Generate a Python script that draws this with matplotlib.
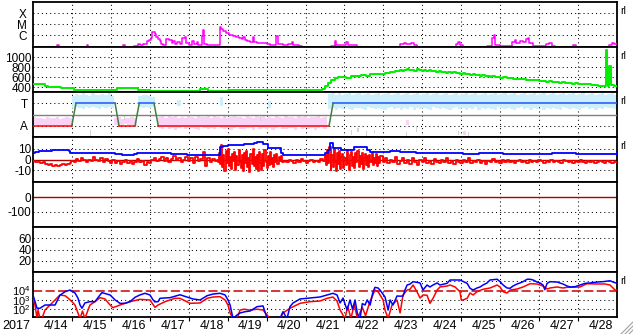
import numpy as np
import matplotlib
matplotlib.use('Agg')
import matplotlib.pyplot as plt
from matplotlib.transforms import blended_transform_factory
from matplotlib.ticker import NullLocator
from matplotlib.lines import Line2D

plt.rcParams['font.family'] = ['Liberation Sans', 'DejaVu Sans']
plt.rcParams['mathtext.fontset'] = 'custom'
plt.rcParams['mathtext.rm'] = 'Liberation Sans'
plt.rcParams['mathtext.it'] = 'Liberation Sans'

# ---------------- data (time in hours from start of axis) ----------------
year_label = '2017'
day_labels = ['4/14', '4/15', '4/16', '4/17', '4/18', '4/19', '4/20', '4/21',
              '4/22', '4/23', '4/24', '4/25', '4/26', '4/27', '4/28']
day_grid = [24, 48, 72, 96, 120, 144, 168, 192, 216, 240, 264, 288, 312, 336]

# GOES X-ray flux, log10(W/m2)
xray_pts = [(0, -7.3), (15, -6.95), (16, -7.3), (33, -6.95), (34, -7.3), (55.5, -6.95), (57, -7.1),
            (62, -7.0), (64.5, -6.85), (66, -6.9), (68, -6.8), (70, -6.5), (71.5, -6.45), (72.5, -6.3),
            (73.5, -5.75), (75, -5.95), (76, -6.15), (77, -6.35), (78, -6.5), (79, -6.8), (80, -6.95),
            (82, -6.4), (84, -6.45), (85.5, -6.75), (86.5, -6.55), (87.5, -6.8), (89, -6.6), (90.5, -6.85),
            (92, -6.3), (93.5, -6.2), (94.5, -6.75), (96, -6.9), (98, -6.55), (99, -6.85), (101, -6.6),
            (102, -6.9), (104, -6.1), (104.8, -5.55), (105.5, -6.85), (107, -6.95), (113, -6.9),
            (115, -5.3), (116, -5.45), (117, -5.65), (119, -5.85), (121, -6.0), (123, -6.1), (125, -6.2),
            (127, -6.3), (129, -6.35), (129.5, -6.15), (130.5, -6.45), (132, -6.5), (134, -6.6),
            (135.5, -6.15), (136.5, -6.65), (138, -6.7), (141, -6.75), (144, -6.8), (146, -6.9),
            (150, -6.1), (151, -6.85), (154, -6.95), (157, -6.8), (159.5, -6.6), (160.5, -6.9),
            (164, -7.0), (166, -7.3), (184, -7.0), (186, -6.5), (187, -6.9), (193, -6.6), (194, -6.95),
            (200, -7.3), (226, -6.8), (229, -6.7), (230, -6.85), (233, -6.7), (235, -6.95), (237, -7.3),
            (255, -7.3), (261, -6.8), (262, -6.6), (263, -6.9), (265, -7.3), (280, -7.0), (283, -6.3),
            (284, -6.0), (285, -6.9), (288, -7.0), (295, -6.6), (297, -6.45), (298, -6.7), (300, -6.5),
            (302, -6.6), (304, -6.35), (305, -6.3), (306, -6.7), (308, -7.0), (316, -6.8), (318, -6.75),
            (320, -7.0), (322, -7.3), (333, -6.9), (335, -7.3), (355, -6.9), (357, -6.75), (358, -6.85),
            (360, -6.8)]

# solar wind speed (km/s)
speed_pts = [(0, 455), (4, 450), (6, 452), (7.4, 415), (9, 405), (10.5, 392), (14, 390), (17, 388),
             (20, 380), (23, 383), (25, 346), (30, 348), (35, 344), (40, 340), (45, 338), (50.6, 342),
             (52, 376), (56, 374), (60, 376), (63, 372), (64.5, 336), (68, 333), (72, 326), (75, 320),
             (80, 320), (85, 322), (90, 318), (95, 320), (100, 324), (103, 354), (106, 350), (108, 322),
             (112, 320), (116, 322), (120, 330), (125, 335), (130, 338), (135, 340), (140, 342),
             (145, 338), (150, 335), (155, 340), (160, 345), (165, 340), (170, 336), (175, 345),
             (178, 360), (180, 420), (182, 480), (184, 540), (186, 570), (188, 590), (190, 600),
             (193, 585), (196, 610), (199, 625), (202, 640), (205, 630), (208, 655), (211, 660),
             (214, 670), (217, 690), (220, 700), (223, 720), (226, 745), (227.5, 725), (229, 740),
             (230.5, 755), (232, 735), (233.5, 750), (235, 730), (236.5, 752), (238, 738), (239.5, 722),
             (241, 745), (242.5, 728), (244, 740), (245.5, 712), (247, 725), (248.5, 705), (250, 722),
             (251.5, 698), (253, 710), (254.5, 690), (256, 705), (257.5, 684), (259, 695), (260.5, 672),
             (262, 686), (263.5, 664), (265, 676), (266.5, 655), (268, 666), (269.5, 648), (271, 656),
             (272.5, 636), (274, 648), (275.5, 628), (277, 638), (278.5, 620), (280, 630), (281.5, 608),
             (283, 618), (284.5, 596), (286, 600), (288, 582), (290, 590), (292, 572), (294, 578),
             (296, 560), (298, 566), (300, 552), (302, 558), (304, 540), (306, 546), (308, 532),
             (310, 536), (312, 520), (314, 524), (316, 506), (318, 512), (320, 498), (322, 502),
             (324, 486), (326, 490), (328, 476), (330, 480), (332, 466), (334, 470), (336, 458),
             (338, 462), (340, 452), (342, 456), (344, 446), (346, 440), (348, 426), (350, 420),
             (352, 412), (353, 1150), (354, 700), (354.5, 420), (355, 820), (356, 430), (358, 425),
             (360, 426)]

# IMF sector model; 90 = away, 270 = toward
sector_t = [0, 23.9, 26.5, 50.6, 53.0, 62.9, 65.5, 74.6, 77.2, 182.5, 185.0, 360]
sector_v = [90, 90, 270, 270, 90, 90, 270, 270, 90, 90, 270, 270]

# IMF angle clouds: bin start hour, low, high (deg)
toward_t = [24, 26, 28, 30, 32, 34, 36, 38, 40, 42, 44, 46, 48, 65, 67, 69, 71, 73, 89, 115, 145,
            182, 184, 186, 188, 190, 192, 194, 196, 198, 200, 202, 204, 206, 208, 210, 212, 214,
            216, 218, 220, 222, 224, 226, 228, 230, 232, 234, 236, 238, 240, 242, 244, 246, 248,
            250, 252, 254, 256, 258, 260, 262, 264, 266, 268, 270, 272, 274, 276, 278, 280, 282,
            284, 286, 288, 290, 292, 294, 296, 298, 300, 302, 304, 306, 308, 310, 312, 314, 316,
            318, 320, 322, 324, 326, 328, 330, 332, 334, 336, 338, 340, 342, 344, 346, 348, 350,
            352, 354, 356, 358]
toward_lo = [230, 240, 236, 228, 244, 232, 240, 236, 226, 240, 232, 244, 236, 240, 232, 244, 236, 240,
             250, 248, 230,
             224, 232, 220, 236, 228, 240, 224, 216, 232, 236, 228, 220, 240, 232, 224, 236, 228,
             216, 232, 240, 224, 236, 220, 232, 228, 240, 216, 232, 224, 236, 228, 220, 240, 232,
             224, 236, 228, 216, 232, 240, 224, 236, 220, 232, 228, 240, 216, 232, 224, 236, 228,
             220, 240, 232, 224, 236, 228, 216, 232, 240, 224, 236, 220, 232, 228, 240, 216, 232,
             224, 236, 228, 220, 240, 232, 224, 236, 228, 216, 232, 240, 224, 236, 220, 232, 228,
             240, 232, 236, 228]
toward_hi = [330, 345, 340, 350, 338, 330, 356, 340, 334, 346, 338, 352, 330, 330, 340, 336, 328, 322,
             300, 320, 290,
             344, 352, 340, 356, 336, 348, 360, 340, 344, 352, 336, 348, 356, 340, 344, 352, 336,
             348, 360, 340, 344, 352, 336, 348, 356, 340, 344, 352, 336, 348, 360, 340, 344, 352,
             336, 348, 356, 340, 344, 352, 336, 348, 360, 340, 344, 352, 336, 348, 356, 340, 344,
             352, 336, 348, 360, 340, 344, 352, 336, 348, 356, 340, 344, 352, 336, 348, 360, 340,
             344, 352, 336, 348, 356, 340, 344, 352, 336, 348, 360, 340, 344, 352, 336, 348, 356,
             340, 344, 352, 336]
away_t = [0, 2, 4, 6, 8, 10, 12, 14, 16, 18, 20, 22, 50, 52, 54, 56, 58, 60, 62,
          77, 79, 81, 83, 85, 87, 89, 91, 93, 95, 97, 99, 101, 103, 105, 107, 109, 111, 113, 115,
          117, 119, 121, 123, 125, 127, 129, 131, 133, 135, 137, 139, 141, 143, 145, 147, 149, 151,
          153, 155, 157, 159, 161, 163, 165, 167, 169, 171, 173, 175, 177, 179, 230, 265]
away_lo = [96, 90, 100, 92, 96, 88, 100, 92, 96, 88, 100, 94, 100, 96, 92, 104, 96, 100, 92,
           72, 64, 80, 68, 76, 60, 72, 80, 64, 72, 76, 68, 60, 80, 72, 64, 76, 68, 80, 72,
           64, 76, 60, 72, 80, 68, 64, 76, 72, 60, 80, 68, 72, 64, 76, 60, 72, 80, 68, 64, 76,
           72, 60, 80, 68, 72, 64, 76, 60, 72, 80, 68, 100, 20]
away_hi = [160, 150, 156, 148, 160, 152, 150, 158, 146, 154, 160, 150, 156, 160, 148, 156, 150, 160, 152,
           160, 170, 152, 166, 158, 172, 156, 164, 150, 168, 160, 154, 170, 162, 158, 166, 152, 170,
           160, 156, 168, 150, 164, 172, 158, 160, 154, 168, 162, 150, 166, 158, 172, 156, 160, 152,
           168, 164, 150, 170, 158, 162, 154, 166, 160, 172, 150, 164, 158, 168, 156, 160, 140, 50]
gray_t = [35, 56, 118, 140, 196, 200, 205, 210, 230, 236, 262, 268]
gray_lo = [10, 140, 150, 130, 20, 40, 10, 30, 10, 40, 20, 10]
gray_hi = [60, 180, 175, 170, 60, 70, 50, 60, 40, 80, 50, 40]

# IMF Bt and Bz (nT)
bt_pts = [(0, 5.8), (1.5, 7.0), (4, 7.5), (6, 8.3), (12, 8.6), (18, 8.8), (22, 8.3), (23, 6.0), (30, 6.0),
          (38, 5.8), (45, 6.0), (50.5, 5.0), (55, 4.5), (62, 4.7), (64, 6.3), (70, 6.2), (74, 5.8),
          (80, 6.0), (85, 5.5), (90, 4.8), (95, 4.2), (100, 3.8), (105, 4.2), (111, 4.2), (114, 4.0),
          (115, 11.8), (117, 12.5), (120, 13.0), (125, 13.4), (130, 14), (132, 14.3), (136, 15.5),
          (138, 16.5), (141.8, 16.5), (142, 14), (145, 10.4), (152, 10.4), (153, 5.7), (154, 4.2),
          (165, 4.2), (178, 4.2), (180, 6), (182, 8.8), (183, 15), (185, 10.4), (189, 10.4), (190, 8.8),
          (197, 8.8), (198, 11.3), (205, 11.3), (206, 9), (208, 7.2), (214, 7.2), (220, 7.5), (226, 7.2),
          (230, 6.8), (236, 5.8), (245, 5.7), (255, 5.6), (265, 5.4), (275, 5.6), (290, 5.5), (305, 5.4),
          (320, 5.6), (335, 5.5), (350, 5.5), (360, 5.8)]
bz_pts = [(0, -1.5), (1.5, -2.5), (3, -2), (4.5, -3), (6, -2.5), (7.5, -4.5), (9, -5.5), (10.5, -4.5),
          (12, -5.8), (13.5, -5), (15, -6), (16.5, -5.2), (18, -4.5), (19.5, -5.5), (21, -4), (22.5, -3),
          (23.5, -1), (25, -2), (26.5, 0.5), (28, -1.5), (29.5, 1.5), (31, -0.5), (32.5, -2.5), (34, 0),
          (35.5, -1), (37, 2), (38.5, -0.5), (40, -1.5), (41.5, 1), (43, -2), (44.5, 0.5), (46, -1),
          (47.5, -3), (49, 0), (50.5, -3), (52, -1.5), (53.5, -4), (55, -2), (56.5, -0.5), (58, -3.5),
          (59.5, -1), (61, -4.5), (62.5, -2), (64, 0.5), (65.5, -2.5), (67, -1), (68.5, -5), (70, -2),
          (71.5, -3.5), (73, -0.5), (74.5, 1), (76, -1.5), (77.5, 0.5), (79, 2), (80.5, -1), (82, 1.5),
          (83.5, -2), (85, 0.5), (86.5, 3), (88, -0.5), (89.5, 1), (91, -2.5), (92.5, 0), (94, 2.5),
          (95.5, -1.5), (97, 1), (98.5, -3), (100, 2), (101.5, -1), (103, 0.5), (104.5, 7), (106, -6),
          (107.5, 1.5), (109, -2), (110.5, 0.5), (112, -1.5), (113.5, 0),
          (114, -2), (114.7, 6), (115.4, -4), (116, 13), (116.7, -7), (117.3, 4), (118, -11), (118.7, 8),
          (119.4, -3), (120, 10), (120.7, -6), (121.4, 2), (122, -9), (122.7, 5), (123.4, -1), (124, 7),
          (124.7, -10), (125.4, 3), (126, -5), (126.7, 9), (127.4, -2), (128, -8), (128.7, 4), (129.4, -11),
          (130, 6), (130.7, -3), (131.4, 8), (132, -7), (132.7, 1), (133.4, -12), (134, 5), (134.7, -4),
          (135.4, 10), (136, -6), (136.7, 2), (137.4, -9), (138, 4), (138.7, -11), (139.4, 7), (140, -3),
          (140.7, -10), (141.4, 5), (142, -6), (142.7, 9), (143.4, -2), (144, -8), (144.7, 3), (145.4, -5),
          (146, 7), (146.7, -4), (147.4, 1), (148, -7), (148.7, 4), (149.4, -2), (150, 5), (150.7, -4),
          (151.4, 2), (152, -1), (152.7, 3), (153.4, -2),
          (154.5, -1), (156, -2.5), (157.5, 0), (159, -1.5), (160.5, -3), (162, -0.5), (163.5, -2),
          (165, 0.5), (166.5, -1.5), (168, -3), (169.5, -1), (171, 0), (172.5, -2.5), (174, -1),
          (175.5, -2), (177, 0.5), (178.5, -1.5),
          (180, 3), (180.7, -5), (181.4, 9), (182, -3), (182.7, 12), (183.4, -10), (184, 4), (184.7, -7),
          (185.4, 10), (186, -2), (186.7, -11), (187.4, 6), (188, -4), (188.7, 8), (189.4, -9), (190, 2),
          (190.7, 5), (191.4, -8), (192, 1), (192.7, -5), (193.4, 9), (194, -3), (194.7, -10), (195.4, 4),
          (196, 7), (196.7, -6), (197.4, 2), (198, -8), (198.7, 6), (199.4, -2), (200, 8), (200.7, -7),
          (201.4, 3), (202, -4), (202.7, 6), (203.4, -9), (204, 1), (204.7, 5), (205.4, -5), (206, 3),
          (206.7, -7), (207.4, 4), (208, -2), (208.7, 6), (209.4, -5), (210, 1), (210.7, -3), (211.4, 5),
          (212, -6), (212.7, 2), (213.4, -3), (214, 3),
          (215.5, -2), (217, 1), (218.5, -3.5), (220, 0), (221.5, -2), (223, 2), (224.5, -4), (226, -1),
          (227.5, 1.5), (229, -3), (230.5, -0.5), (232, -4), (233.5, 1), (235, -2), (236.5, -5), (238, 0),
          (239.5, -2.5), (241, 1), (242.5, -3), (244, -1), (245.5, -4), (247, 0.5), (248.5, -2),
          (250, -3.5), (251.5, 0), (253, -2), (254.5, 1), (256, -3), (257.5, -1), (259, -4), (260.5, 0),
          (262, -2), (263.5, -3.5), (265, -0.5), (266.5, -2), (268, 1), (269.5, -3), (271, -1),
          (272.5, -2.5), (274, 0), (275.5, -3), (277, -1.5), (278.5, -4), (280, -1), (281.5, -2),
          (283, 0.5), (284.5, -2.5), (286, -1), (287.5, -3), (289, -0.5), (290.5, -2), (292, 0),
          (293.5, -2.5), (295, -1), (296.5, -3), (298, -1.5), (299.5, -0.5), (301, -2), (302.5, -1),
          (304, -3), (305.5, -0.5), (307, -2), (308.5, -1), (310, -2.5), (311.5, 0), (313, -1.5),
          (314.5, -3), (316, -1), (317.5, -2), (319, 0), (320.5, -2.5), (322, -1), (323.5, -2), (325, -3),
          (326.5, -0.5), (328, -1.5), (329.5, -2.5), (331, -1), (332.5, -3), (334, -1.5), (335.5, -2),
          (337, -0.5), (338.5, -2), (340, -3), (341.5, -1), (343, -2.5), (344.5, -1.5), (346, -3),
          (347.5, -2), (349, -1), (350.5, -2.5), (352, -3), (353.5, -1.5), (355, -2), (356.5, -3.5),
          (358, -2), (360, -2)]

# electron flux, log10
e_hi_pts = [(0, 3.53), (2.5, 2.1), (4.3, 2.1), (7.4, 2.45), (13.6, 2.45), (16.6, 3.5), (19.7, 3.88),
            (22.8, 4.06), (25.9, 3.74), (27.7, 3.2), (29, 2.45), (30.2, 2.1), (32, 2.67), (35.1, 2.81),
            (38.2, 2.81), (41.3, 3.53), (42.5, 3.78), (47.5, 3.53), (50.6, 3.0), (53.6, 2.63),
            (56.7, 2.63), (59.8, 2.81), (62.9, 3.28), (65.9, 3.53), (69, 3.71), (72.1, 3.53), (74, 3.0),
            (75.2, 2.78), (77.1, 2.81), (78.3, 3.17), (84.5, 3.24), (90.6, 3.55), (94.9, 3.31),
            (98.6, 3.1), (103, 2.99), (107.3, 3.45), (111, 3.63), (115.3, 3.71), (118.4, 3.53),
            (120.2, 2.99), (121.5, 2.45), (123.3, 1.0), (125.8, 1.38), (127.6, 1.59), (130.7, 1.73),
            (133.8, 1.8), (138.1, 2.27), (141.8, 2.35), (144.3, 1.0), (152.3, 1.0), (154.1, 1.73),
            (156.6, 1.0), (158.4, 2.27), (160.3, 2.67), (164.6, 3.1), (170.8, 3.2), (176.9, 3.31),
            (181.3, 3.53), (184.9, 3.71), (187.4, 3.53), (189.3, 2.67), (191.1, 3.2), (193.6, 1.91),
            (195.4, 2.99), (197, 2.0), (198.5, 2.99), (200, 1.5), (201.6, 1.0), (203, 2.6), (204.7, 2.45),
            (206, 3.0), (207.8, 2.45), (209.5, 3.8), (210.8, 4.35), (212.7, 4.28), (213.9, 4.06),
            (217, 3.31), (218.9, 1.91), (220.1, 2.99), (221.9, 2.45), (224.4, 3.42), (226.3, 3.4),
            (228.1, 3.42), (229.3, 4.06), (230.6, 4.6), (232.4, 4.7), (234.3, 4.96), (238.6, 4.82),
            (240.4, 4.06), (242.9, 4.6), (244.7, 4.39), (246.6, 4.6), (249.1, 4.82), (250.9, 4.6),
            (255.2, 4.78), (257.1, 5.14), (263.2, 5.14), (267.6, 4.78), (269.4, 4.25), (271.3, 4.06),
            (273.7, 4.28), (275.6, 4.39), (277.4, 4.6), (279.9, 4.82), (281.7, 5.14), (286.1, 5.22),
            (287.9, 4.96), (289.8, 4.6), (292.2, 4.28), (294.1, 4.25), (295.9, 4.49), (298.4, 4.71),
            (300.2, 4.82), (302.1, 4.96), (304.6, 5.22), (306.4, 5.22), (308.3, 5.14), (310.7, 4.92),
            (312.6, 4.82), (314.4, 4.6), (315.5, 4.1), (316.9, 4.78), (318.7, 4.96), (323, 4.92),
            (326.7, 4.71), (329.2, 4.49), (331.1, 4.39), (334.1, 4.42), (337.2, 4.6), (340.3, 4.78),
            (343.4, 4.82), (347.7, 4.92), (351.4, 4.96), (355.7, 5.06), (357.6, 4.92), (360, 4.78)]
e_lo_pts = [(0, 3.17), (1.2, 2.45), (2.5, 1.0), (3.1, 1.9), (4.3, 1.0), (5.5, 1.0), (7.4, 1.91),
            (10.5, 2.45), (13.6, 2.99), (16.6, 3.53), (19.7, 3.45), (21.6, 3.2), (24, 2.81), (25.9, 2.45),
            (27.7, 1.6), (29, 1.0), (30.5, 1.8), (32, 1.0), (33.9, 1.9), (35.1, 2.45), (38.2, 2.81),
            (41.3, 3.24), (44.4, 3.1), (47.5, 2.45), (49.3, 2.16), (53.6, 2.45), (59.8, 2.81),
            (65.9, 3.06), (72.1, 2.99), (75.2, 2.2), (77.1, 2.45), (81.4, 2.81), (87.5, 3.17),
            (90.6, 3.17), (96.8, 2.63), (103, 2.67), (107.3, 3.17), (111, 3.31), (115.3, 3.35),
            (118.4, 2.99), (120.2, 2.45), (121.5, 1.59), (123.3, 1.0), (125.8, 1.0), (127.6, 1.9),
            (130, 2.0), (133.8, 1.9), (138.1, 2.0), (141.8, 1.91), (146.1, 1.0), (152.3, 1.0),
            (154.1, 1.59), (158.4, 2.1), (164.6, 2.63), (170.8, 2.81), (176.9, 2.88), (181.3, 3.17),
            (184.9, 3.31), (187.4, 2.88), (189.3, 1.91), (192.3, 1.0), (194, 2.3), (196, 1.0), (198, 2.5),
            (200, 1.0), (203, 2.2), (205, 1.3), (207.8, 2.88), (210.8, 4.06), (212.7, 3.88),
            (215.8, 2.99), (217, 1.91), (218.9, 1.0), (221.3, 2.45), (224.4, 2.99), (226.3, 1.6),
            (228.1, 3.53), (230.6, 4.06), (232.4, 4.14), (234.3, 4.6), (236.7, 3.88), (238.6, 3.2),
            (240.4, 3.53), (242.9, 3.5), (244.7, 2.63), (246.6, 3.17), (249.1, 4.06), (250.9, 4.39),
            (255.2, 4.49), (257.1, 4.6), (260.2, 4.39), (263.2, 3.88), (264, 3.0), (265.1, 2.99),
            (267.6, 3.17), (269.4, 3.74), (271.3, 3.53), (273.7, 3.88), (277.4, 4.14), (281.7, 4.28),
            (286.1, 4.6), (287.9, 4.39), (289.8, 3.88), (292.2, 3.74), (294.1, 4.06), (298.4, 4.17),
            (302.1, 4.39), (306.4, 4.74), (310.7, 4.71), (314.4, 4.49), (316.9, 4.17), (318.7, 4.28),
            (323, 4.39), (326.7, 4.28), (329.2, 4.35), (337.2, 4.39), (341.5, 4.74), (347.7, 4.71),
            (352.6, 4.71), (355.7, 4.6), (358.8, 4.06), (360, 4.06)]

# ---------------- figure ----------------
W, H = 633, 334
fig = plt.figure(figsize=(W / 100, H / 100), dpi=100)
L, R = 33, 617
PH = 45
FS = 8.5
axes = []
for i in range(7):
    top = 2 + PH * i
    ax = fig.add_axes([L / W, 1 - (top + PH) / H, (R - L) / W, PH / H])
    ax.set_xlim(0, 360)
    ax.set_xticks([])
    for s in ax.spines.values():
        s.set_linewidth(1.3)
        s.set_color('black')
    for d in day_grid:
        ax.axvline(d, color='black', lw=0.75, ls=(0, (1, 3)), zorder=1)
    ax.tick_params(axis='y', length=0, labelsize=FS)
    axes.append(ax)

DOT = dict(color='black', lw=0.75, ls=(0, (1, 3)), zorder=1)


def unzip(p):
    a = np.array(p, dtype=float)
    return a[:, 0], a[:, 1]


# panel 1: X-ray
ax = axes[0]
t, v = unzip(xray_pts)
ax.set_yscale('log')
ax.yaxis.set_minor_locator(NullLocator())
ax.set_ylim(10 ** -7.09, 1e-3)
for lv in (1e-4, 1e-5, 1e-6):
    ax.axhline(lv, **DOT)
ax.plot(t, 10 ** v, color='#ff00ff', lw=1.1, drawstyle='steps-post', zorder=3)
ax.set_yticks([1e-4, 1e-5, 1e-6])
ax.set_yticklabels(['X', 'M', 'C'])
ax.tick_params(axis='y', pad=4.5)

# panel 2: speed
ax = axes[1]
t, v = unzip(speed_pts)
ax.set_ylim(300, 1200)
for lv in (1000, 800, 600, 400):
    ax.axhline(lv, **DOT)
ax.plot(t, v, color='#00ee00', lw=1.4, drawstyle='steps-post', zorder=3)
ax.set_yticks([1000, 800, 600, 400])
ax.set_yticklabels(['1000', '800', '600', '400'])
ax.tick_params(axis='y', pad=1)

# panel 3: sector
ax = axes[2]
ax.set_ylim(0, 360)
ax.bar(toward_t, np.array(toward_hi) - np.array(toward_lo), bottom=toward_lo, width=2.0,
       align='edge', color='#cdeefb', lw=0, zorder=2)
ax.bar(away_t, np.array(away_hi) - np.array(away_lo), bottom=away_lo, width=2.0,
       align='edge', color='#f9d2f5', lw=0, zorder=2)
ax.bar(gray_t, np.array(gray_hi) - np.array(gray_lo), bottom=gray_lo, width=0.8,
       align='edge', color='#d4d4d4', lw=0, zorder=2)
ax.axhline(270, **DOT)
ax.axhline(90, **DOT)
ax.axhline(180, color='#808080', lw=1.0, zorder=3)
st, sv = np.array(sector_t), np.array(sector_v)
for k in range(len(st) - 1):
    if sv[k] == sv[k + 1]:
        c = '#ff0000' if sv[k] == 90 else '#2255ff'
    else:
        c = '#408040'
    ax.plot(st[k:k + 2], sv[k:k + 2], color=c, lw=1.1, zorder=4)
ax.set_yticks([270, 90])
ax.set_yticklabels(['T', 'A'])
ax.tick_params(axis='y', pad=4)

# panel 4: Bt / Bz
ax = axes[3]
ax.set_ylim(-20.8, 20.8)
ax.axhline(10, **DOT)
ax.axhline(-10, **DOT)
ax.axhline(0, color='#b00000', lw=1.0, zorder=2)
t, v = unzip(bz_pts)
ax.plot(t, v, color='#ff0000', lw=1.3, drawstyle='steps-post', zorder=3)
t, v = unzip(bt_pts)
ax.plot(t, v, color='#0000ff', lw=1.3, drawstyle='steps-post', zorder=4)
ax.set_yticks([10, 0, -10])
ax.set_yticklabels(['10', '0', '-10'])
ax.tick_params(axis='y', pad=1)

# panel 5: Dst
ax = axes[4]
ax.set_ylim(-200, 100)
ax.axhline(-100, **DOT)
ax.axhline(0, color='#b00000', lw=1.0, zorder=2)
ax.set_yticks([0, -100])
ax.set_yticklabels(['0', '-100'])
ax.tick_params(axis='y', pad=1)

# panel 6
ax = axes[5]
ax.set_ylim(0, 80)
for lv in (60, 40, 20):
    ax.axhline(lv, **DOT)
ax.set_yticks([60, 40, 20])
ax.set_yticklabels(['60', '40', '20'])
ax.tick_params(axis='y', pad=1)

# panel 7: electrons
ax = axes[6]
ax.set_yscale('log')
ax.yaxis.set_minor_locator(NullLocator())
ax.set_ylim(10 ** 1.16, 1e6)
for lv in (1e5, 1e3, 1e2):
    ax.axhline(lv, **DOT)
ax.axhline(1e4, color='#cc0000', lw=1.1, ls=(0, (6, 2.2)), zorder=2)
t, v = unzip(e_lo_pts)
ax.plot(t, 10 ** v, color='#ff0000', lw=1.1, zorder=3)
t, v = unzip(e_hi_pts)
ax.plot(t, 10 ** v, color='#0000ff', lw=1.1, zorder=4)
ax.set_yticks([1e4, 1e3, 1e2])
ax.set_yticklabels([r'$10^4$', r'$10^3$', r'$10^2$'])
ax.tick_params(axis='y', pad=2, labelsize=8)
ax.set_xticks(day_grid)
ax.set_xticklabels([])
ax.tick_params(axis='x', direction='out', length=3, width=0.8)

tr = blended_transform_factory(ax.transData, ax.transAxes)
for i, lab in enumerate(day_labels):
    ax.text(24 * i + 14, -0.2, lab, transform=tr, ha='center', va='center', fontsize=9)
ax.text(-10.5, -0.2, year_label, transform=tr, ha='center', va='center', fontsize=9)

# right-side markers
for i in (0, 1, 2, 3, 6):
    top = 2 + PH * i
    fig.text(620 / W, 1 - (top + 9) / H, 'rl', fontsize=7.5, ha='left', va='center')

# window resize grip
for k in (4, 8, 12):
    fig.add_artist(Line2D([(W - k) / W, 1.0], [0.0, k / H], transform=fig.transFigure,
                          color='#a0a0a0', lw=0.8))

fig.savefig('out.png', dpi=100)
